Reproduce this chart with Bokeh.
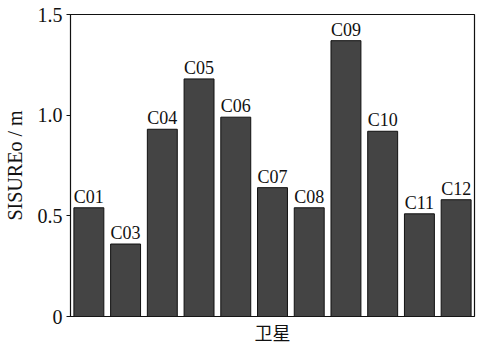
from bokeh.plotting import figure
from bokeh.models import ColumnDataSource, Range1d, FixedTicker, Title
from bokeh.core.properties import value
from bokeh.embed import file_html
from bokeh.resources import INLINE

satellites = ["C01", "C03", "C04", "C05", "C06", "C07", "C08", "C09", "C10", "C11", "C12"]
sisure = [0.54, 0.36, 0.93, 1.18, 0.99, 0.64, 0.54, 1.37, 0.92, 0.51, 0.58]
y_ticks = [0, 0.5, 1.0, 1.5]
y_tick_labels = ["0", "0.5", "1.0", "1.5"]

xs = list(range(1, len(satellites) + 1))
src = ColumnDataSource(dict(x=xs, top=sisure, name=satellites))

p = figure(width=477, height=344, output_backend="svg", toolbar_location=None,
           x_range=Range1d(0.5, len(satellites) + 0.5), y_range=Range1d(0, 1.5),
           min_border_left=69, min_border_right=3, min_border_top=14, min_border_bottom=0)

p.vbar(x="x", top="top", width=0.815, source=src, fill_color="#444444",
       line_color="#111111", line_width=1)
p.text(x="x", y="top", text="name", source=src, text_align="center",
       text_baseline="bottom", y_offset=-1, text_font=value("Liberation Serif"),
       text_font_size="18px", text_color="#111111")

p.xgrid.visible = False
p.ygrid.visible = False
p.outline_line_color = "#111111"
p.outline_line_width = 1.2

p.xaxis.visible = False

ya = p.yaxis[0]
ya.ticker = FixedTicker(ticks=y_ticks)
ya.major_label_overrides = {t: l for t, l in zip(y_ticks, y_tick_labels)}
ya.minor_tick_line_color = None
ya.major_tick_in = 0
ya.major_tick_out = 4
ya.axis_line_color = "#111111"
ya.major_tick_line_color = "#111111"
ya.major_label_text_font = "Liberation Serif"
ya.major_label_text_font_size = "20px"
ya.major_label_text_color = "#111111"
ya.major_label_standoff = 4
ya.axis_label = "SISUREo / m"
ya.axis_label_text_font = "Liberation Serif"
ya.axis_label_text_font_size = "20px"
ya.axis_label_text_font_style = "normal"
ya.axis_label_text_color = "#111111"
ya.axis_label_standoff = 9

p.add_layout(Title(text="卫星", align="center", text_font="Noto Sans CJK SC",
                   text_font_size="18px", text_font_style="normal",
                   text_color="#111111", standoff=0), "below")

open("out.html", "w").write(file_html(p, INLINE))
